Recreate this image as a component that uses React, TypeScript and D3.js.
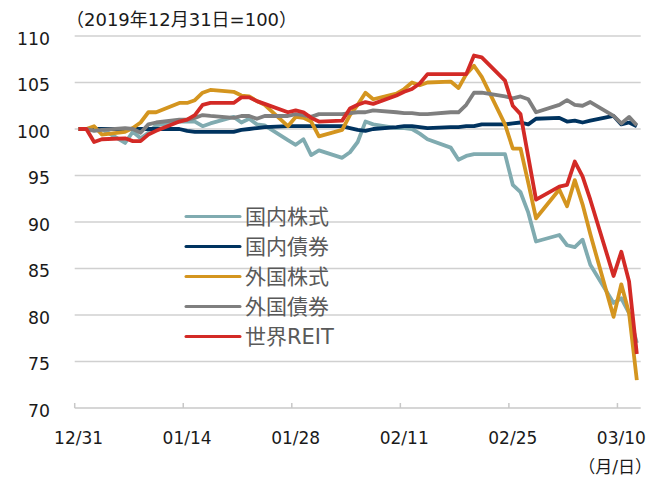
import React, { useEffect, useRef } from "react";
import * as d3 from "d3";

// trading days (holidays carry the previous close)
const dates = [
  "2019-12-31",
  "2020-01-01", "2020-01-02", "2020-01-03", "2020-01-06", "2020-01-07", "2020-01-08", "2020-01-09", "2020-01-10",
  "2020-01-13", "2020-01-14", "2020-01-15", "2020-01-16", "2020-01-17", "2020-01-20", "2020-01-21", "2020-01-22",
  "2020-01-23", "2020-01-24", "2020-01-27", "2020-01-28", "2020-01-29", "2020-01-30", "2020-01-31",
  "2020-02-03", "2020-02-04", "2020-02-05", "2020-02-06", "2020-02-07", "2020-02-10", "2020-02-11", "2020-02-12",
  "2020-02-13", "2020-02-14", "2020-02-17", "2020-02-18", "2020-02-19", "2020-02-20", "2020-02-21", "2020-02-24",
  "2020-02-25", "2020-02-26", "2020-02-27", "2020-02-28",
  "2020-03-02", "2020-03-03", "2020-03-04", "2020-03-05", "2020-03-06", "2020-03-09", "2020-03-10", "2020-03-11",
  "2020-03-12",
];

const domesticStocks = [
  100,
  100, 100, 100, 98.5, 99.7, 99.0, 99.6, 100.4,
  100.8, 100.8, 100.8, 100.3, 100.6, 101.3, 100.7, 101.1,
  100.5, 100.4, 98.8, 98.3, 98.9, 97.2, 97.7,
  96.9, 97.5, 98.6, 100.8, 100.5, 100.1, 100.1, 100.0,
  99.5, 98.9, 98.0, 96.7, 97.1, 97.3, 97.3, 97.3,
  94.0, 93.2, 91.0, 87.9,
  88.6, 87.5, 87.3, 88.1, 85.4, 81.3, 81.8, 80.2,
  77.0,
];

const domesticBonds = [
  100,
  100, 100, 100, 100, 100, 100, 100, 100,
  100, 99.8, 99.7, 99.7, 99.7, 99.7, 99.9, 100.0,
  100.1, 100.2, 100.3, 100.3, 100.3, 100.3, 100.3,
  100.3, 100.1, 99.9, 99.8, 100.0, 100.2, 100.3, 100.3,
  100.2, 100.1, 100.2, 100.2, 100.3, 100.3, 100.5, 100.5,
  100.6, 100.7, 100.5, 101.1,
  101.2, 100.8, 100.9, 100.7, 100.9, 101.4, 100.5, 100.7,
  100.3,
];

const foreignStocks = [
  100,
  100, 100.3, 99.4, 99.7, 100.1, 100.7, 101.8, 101.8,
  102.8, 102.8, 103.1, 103.9, 104.2, 104.0, 103.6, 103.5,
  103.0, 102.6, 100.3, 101.3, 101.2, 100.8, 99.2,
  99.9, 101.5, 102.6, 103.9, 103.2, 103.8, 104.3, 105.0,
  104.7, 105.0, 105.1, 104.4, 105.9, 106.8, 105.6, 100.5,
  97.9, 97.9, 94.2, 90.4,
  93.5, 91.7, 94.5, 91.9, 88.7, 79.8, 83.3, 80.2,
  73.0,
];

const foreignBonds = [
  100,
  100, 99.8, 99.9, 100.1, 100.0, 99.6, 100.5, 100.7,
  101.0, 101.0, 101.2, 101.5, 101.4, 101.2, 101.4, 101.4,
  101.1, 101.4, 101.4, 101.6, 101.5, 101.3, 101.6,
  101.6, 101.7, 101.8, 101.8, 102.0, 101.8, 101.7, 101.7,
  101.6, 101.6, 101.8, 101.8, 102.6, 103.9, 103.9, 103.5,
  103.3, 103.5, 103.2, 101.8,
  102.6, 103.1, 102.6, 102.5, 102.9, 101.4, 100.6, 101.3,
  100.4,
];

const globalReit = [
  100,
  100, 98.6, 98.9, 99.0, 98.7, 98.7, 99.4, 99.8,
  100.8, 101.0, 101.5, 102.6, 102.8, 102.8, 103.4, 103.4,
  103.0, 102.7, 101.8, 102.0, 101.8, 101.2, 100.8,
  100.9, 102.2, 102.6, 102.9, 102.7, 103.6, 104.0, 104.3,
  104.9, 105.9, 105.9, 105.9, 105.9, 107.9, 107.7, 105.2,
  102.5, 101.6, 97.0, 92.4,
  93.8, 94.0, 96.5, 94.9, 92.4, 84.2, 86.8, 83.6,
  75.8,
];

const seriesNames = ["国内株式", "国内債券", "外国株式", "外国債券", "世界REIT"];
const seriesValues = [domesticStocks, domesticBonds, foreignStocks, foreignBonds, globalReit];
const seriesColors = ["#80abb0", "#00335f", "#d4951f", "#7f7f7f", "#d32a26"];

const yTicks = [70, 75, 80, 85, 90, 95, 100, 105, 110];
const xTicks = ["2019-12-31", "2020-01-14", "2020-01-28", "2020-02-11", "2020-02-25", "2020-03-10"];
const axisStart = "2019-12-31";
const axisEnd = "2020-03-13";

const FONT = "'DejaVu Sans', 'Noto Sans CJK JP', sans-serif";

export default function App() {
  const ref = useRef<SVGSVGElement>(null);

  useEffect(() => {
    const width = 665, height = 477;
    const margin = { left: 74.7, right: 24.3, top: 36, bottom: 69 };
    const parse = d3.timeParse("%Y-%m-%d");
    const noon = (s: string) => d3.timeHour.offset(parse(s) as Date, 12);

    const svg = d3.select(ref.current);
    svg.selectAll("*").remove();

    const xScale = d3.scaleTime()
      .domain([parse(axisStart) as Date, parse(axisEnd) as Date])
      .range([margin.left, width - margin.right]);
    const yScale = d3.scaleLinear()
      .domain([70, 110])
      .range([height - margin.bottom, margin.top]);

    // gridlines
    svg.append("g")
      .selectAll("line")
      .data(yTicks.filter(t => t > 70))
      .enter().append("line")
      .attr("x1", margin.left)
      .attr("x2", width - margin.right)
      .attr("y1", d => yScale(d))
      .attr("y2", d => yScale(d))
      .attr("stroke", "#d0d0d0")
      .attr("stroke-width", 1.5);

    // x axis line + inner ticks
    const y0 = yScale(70);
    svg.append("line")
      .attr("x1", margin.left).attr("x2", width - margin.right)
      .attr("y1", y0).attr("y2", y0)
      .attr("stroke", "#c8c8c8").attr("stroke-width", 1.5);
    svg.append("g")
      .selectAll("line")
      .data(xTicks)
      .enter().append("line")
      .attr("x1", d => xScale(parse(d) as Date))
      .attr("x2", d => xScale(parse(d) as Date))
      .attr("y1", y0 - 5)
      .attr("y2", y0)
      .attr("stroke", "#c8c8c8").attr("stroke-width", 1.5);

    // x labels centred on the day slot
    const fmt = d3.timeFormat("%m/%d");
    svg.append("g")
      .selectAll("text")
      .data(xTicks)
      .enter().append("text")
      .attr("x", d => xScale(noon(d)))
      .attr("y", 438)
      .attr("text-anchor", "middle")
      .attr("dominant-baseline", "central")
      .style("font-family", FONT)
      .style("font-size", "17px")
      .style("fill", "#1a1a1a")
      .text(d => fmt(parse(d) as Date));

    // y labels
    svg.append("g")
      .selectAll("text")
      .data(yTicks)
      .enter().append("text")
      .attr("x", 50)
      .attr("y", d => yScale(d) + 2.5)
      .attr("text-anchor", "end")
      .attr("dominant-baseline", "central")
      .style("font-family", FONT)
      .style("font-size", "17.3px")
      .style("fill", "#1a1a1a")
      .text(d => d);

    // lines
    const line = d3.line<[Date, number]>()
      .x(d => xScale(d[0]))
      .y(d => yScale(d[1]));
    seriesValues.forEach((values, i) => {
      const pts: [Date, number][] = values.map((v, j) => [noon(dates[j]), v]);
      svg.append("path")
        .attr("d", line(pts) as string)
        .attr("fill", "none")
        .attr("stroke", seriesColors[i])
        .attr("stroke-width", 3.8)
        .attr("stroke-linejoin", "round");
    });

    // legend
    const legend = svg.append("g").attr("transform", "translate(186,216.5)");
    seriesNames.forEach((name, i) => {
      const g = legend.append("g").attr("transform", `translate(0,${i * 30})`);
      g.append("line")
        .attr("x1", 0).attr("x2", 54)
        .attr("stroke", seriesColors[i])
        .attr("stroke-width", 3)
        .attr("stroke-linecap", "round");
      g.append("text")
        .attr("x", 59)
        .attr("dominant-baseline", "central")
        .style("font-family", FONT)
        .style("font-size", "21px")
        .style("fill", "#595959")
        .text(name);
    });

    // titles
    svg.append("text")
      .attr("x", 66).attr("y", 19)
      .attr("dominant-baseline", "central")
      .style("font-family", FONT)
      .style("font-size", "18px")
      .style("fill", "#1a1a1a")
      .text("（2019年12月31日=100）");
    svg.append("text")
      .attr("x", 652).attr("y", 467)
      .attr("text-anchor", "end")
      .attr("dominant-baseline", "central")
      .style("font-family", FONT)
      .style("font-size", "17px")
      .style("fill", "#1a1a1a")
      .text("（月/日）");
  }, []);

  return (
    <svg
      ref={ref}
      width={665}
      height={477}
      style={{ position: "absolute", left: 0, top: 0, background: "#fff" }}
    />
  );
}
